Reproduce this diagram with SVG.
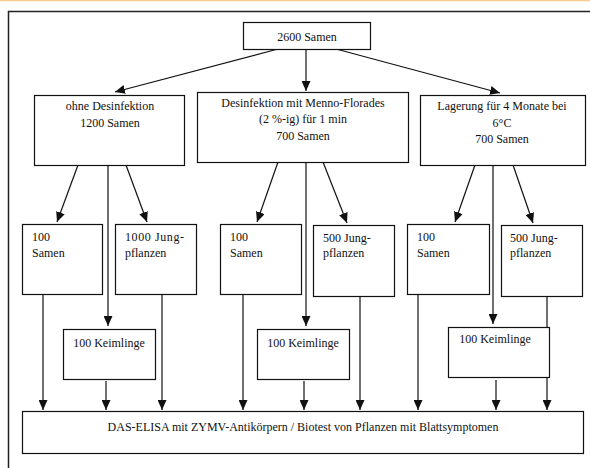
<svg xmlns="http://www.w3.org/2000/svg" width="590" height="468" viewBox="0 0 590 468">
<style>
.box{fill:#fff;stroke:#111;stroke-width:1.2}
.t{font-family:"Liberation Serif","Times New Roman",serif;font-size:12px;fill:#111}
.m{text-anchor:middle}
.c{stroke:#111;stroke-width:1.2;fill:none}
.a{marker-end:url(#ah)}
</style>
<defs>
<marker id="ah" markerUnits="userSpaceOnUse" markerWidth="10" markerHeight="9" refX="10" refY="4.5" orient="auto">
<path d="M0,0 L10,4.5 L0,9 z" fill="#111"/>
</marker>
</defs>
<rect x="0" y="0" width="590" height="1.5" fill="#f8c98e"/>
<rect x="0" y="1.5" width="590" height="466.5" fill="#fff"/>
<g id="frame">
<path d="M8.5,468 V11.5 H590" fill="none" stroke="#222" stroke-width="1.5"/>
</g>
<g id="connectors">
<line class="c a" x1="278" y1="49" x2="115" y2="92"/>
<line class="c a" x1="306" y1="49" x2="306" y2="91"/>
<line class="c a" x1="336" y1="49" x2="500" y2="93"/>
<line class="c a" x1="78" y1="165" x2="57" y2="222"/>
<line class="c a" x1="108" y1="165" x2="108" y2="326"/>
<line class="c a" x1="126" y1="165" x2="147" y2="222"/>
<line class="c a" x1="278" y1="162" x2="257" y2="222"/>
<line class="c a" x1="306" y1="162" x2="306" y2="326"/>
<line class="c a" x1="323" y1="162" x2="347" y2="223"/>
<line class="c a" x1="475" y1="165" x2="455" y2="222"/>
<line class="c a" x1="493" y1="165" x2="493" y2="324"/>
<line class="c a" x1="513" y1="165" x2="533" y2="223"/>
<line class="c a" x1="43" y1="294" x2="43" y2="410"/>
<line class="c a" x1="106" y1="381" x2="106" y2="410"/>
<line class="c a" x1="162" y1="294" x2="162" y2="410"/>
<line class="c a" x1="243" y1="294" x2="243" y2="410"/>
<line class="c a" x1="304" y1="381" x2="304" y2="410"/>
<line class="c a" x1="360" y1="296" x2="360" y2="410"/>
<line class="c a" x1="418" y1="294" x2="418" y2="410"/>
<line class="c a" x1="496" y1="380" x2="496" y2="410"/>
<line class="c a" x1="547" y1="296" x2="547" y2="410"/>
</g>
<g id="n-root">
<rect class="box" x="243.5" y="22.5" width="127" height="27"/>
<text class="t m" x="307" y="41">2600 Samen</text>
</g>
<g id="n-ohne">
<rect class="box" x="34.5" y="95.5" width="150" height="70"/>
<text class="t m" x="110" y="110">ohne Desinfektion</text>
<text class="t m" x="110" y="127">1200 Samen</text>
</g>
<g id="n-menno">
<rect class="box" x="197.5" y="92.5" width="211" height="70"/>
<text class="t m" x="303" y="107">Desinfektion mit Menno-Florades</text>
<text class="t m" x="303" y="123">(2 %-ig) für 1 min</text>
<text class="t m" x="303" y="140">700 Samen</text>
</g>
<g id="n-lager">
<rect class="box" x="420.5" y="95.5" width="165" height="70"/>
<text class="t m" x="502" y="110">Lagerung für 4 Monate bei</text>
<text class="t m" x="502" y="127">6°C</text>
<text class="t m" x="502" y="143">700 Samen</text>
</g>
<g id="n-a1">
<rect class="box" x="22.5" y="224.5" width="80" height="70"/>
<text class="t" x="32" y="241">100</text>
<text class="t" x="32" y="257">Samen</text>
</g>
<g id="n-a2">
<rect class="box" x="115.5" y="224.5" width="81" height="70"/>
<text class="t" x="125" y="241" textLength="59" lengthAdjust="spacing">1000  Jung-</text>
<text class="t" x="125" y="257">pflanzen</text>
</g>
<g id="n-b1">
<rect class="box" x="220.5" y="224.5" width="81" height="70"/>
<text class="t" x="230" y="241">100</text>
<text class="t" x="230" y="257">Samen</text>
</g>
<g id="n-b2">
<rect class="box" x="313.5" y="225.5" width="81" height="71"/>
<text class="t" x="323" y="242">500 Jung-</text>
<text class="t" x="323" y="257">pflanzen</text>
</g>
<g id="n-c1">
<rect class="box" x="407.5" y="224.5" width="82" height="70"/>
<text class="t" x="417" y="241">100</text>
<text class="t" x="417" y="257">Samen</text>
</g>
<g id="n-c2">
<rect class="box" x="501.5" y="225.5" width="81" height="71"/>
<text class="t" x="510" y="242">500 Jung-</text>
<text class="t" x="510" y="257">pflanzen</text>
</g>
<g id="n-ka">
<rect class="box" x="63.5" y="329.5" width="92" height="50"/>
<text class="t m" x="109" y="347">100 Keimlinge</text>
</g>
<g id="n-kb">
<rect class="box" x="257.5" y="329.5" width="92" height="50"/>
<text class="t m" x="303" y="347">100 Keimlinge</text>
</g>
<g id="n-kc">
<rect class="box" x="448.5" y="327.5" width="101" height="50"/>
<text class="t m" x="495" y="343">100 Keimlinge</text>
</g>
<g id="n-elisa">
<rect class="box" x="22.5" y="411.5" width="561" height="42"/>
<text class="t m" x="303" y="431">DAS-ELISA mit ZYMV-Antikörpern / Biotest von Pflanzen mit Blattsymptomen</text>
</g>
</svg>
